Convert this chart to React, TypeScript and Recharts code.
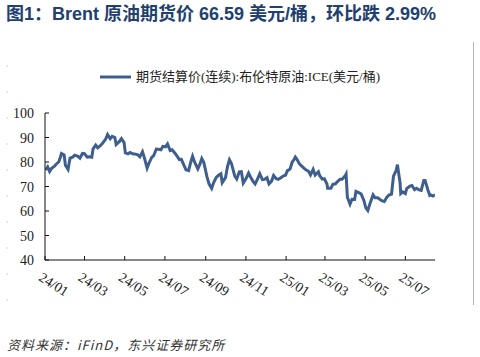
import React from 'react';
import { LineChart, Line, XAxis, YAxis, Legend } from 'recharts';

const dates: string[] = [
  '2024-01-02','2024-01-05','2024-01-08','2024-01-11','2024-01-15','2024-01-18','2024-01-22','2024-01-25','2024-01-26','2024-01-30',
  '2024-02-01','2024-02-05','2024-02-08','2024-02-12','2024-02-15','2024-02-20','2024-02-23','2024-02-27',
  '2024-03-01','2024-03-05','2024-03-08','2024-03-12','2024-03-14','2024-03-18','2024-03-21','2024-03-25','2024-03-28',
  '2024-04-02','2024-04-05','2024-04-09','2024-04-12','2024-04-16','2024-04-18','2024-04-23','2024-04-26','2024-04-30',
  '2024-05-02','2024-05-06','2024-05-09','2024-05-13','2024-05-16','2024-05-21','2024-05-24','2024-05-28','2024-05-31',
  '2024-06-04','2024-06-07','2024-06-11','2024-06-14','2024-06-18','2024-06-21','2024-06-25','2024-06-28',
  '2024-07-02','2024-07-05','2024-07-09','2024-07-12','2024-07-16','2024-07-19','2024-07-23','2024-07-26','2024-07-30',
  '2024-08-02','2024-08-06','2024-08-09','2024-08-12','2024-08-15','2024-08-20','2024-08-23','2024-08-26','2024-08-29',
  '2024-09-03','2024-09-06','2024-09-10','2024-09-13','2024-09-17','2024-09-20','2024-09-24','2024-09-26',
  '2024-10-01','2024-10-04','2024-10-07','2024-10-10','2024-10-15','2024-10-18','2024-10-22','2024-10-25','2024-10-28',
  '2024-11-01','2024-11-05','2024-11-08','2024-11-12','2024-11-15','2024-11-19','2024-11-22','2024-11-26','2024-11-29',
  '2024-12-03','2024-12-06','2024-12-10','2024-12-13','2024-12-17','2024-12-20','2024-12-24','2024-12-27','2024-12-31',
  '2025-01-03','2025-01-07','2025-01-10','2025-01-13','2025-01-15','2025-01-17','2025-01-21','2025-01-24','2025-01-28','2025-01-31',
  '2025-02-04','2025-02-07','2025-02-11','2025-02-14','2025-02-19','2025-02-21','2025-02-25','2025-02-28',
  '2025-03-04','2025-03-05','2025-03-10','2025-03-13','2025-03-17','2025-03-20','2025-03-24','2025-03-27',
  '2025-04-01','2025-04-02','2025-04-04','2025-04-08','2025-04-11','2025-04-15','2025-04-17','2025-04-22','2025-04-25','2025-04-29',
  '2025-05-02','2025-05-05','2025-05-08','2025-05-13','2025-05-16','2025-05-20','2025-05-23','2025-05-27','2025-05-30',
  '2025-06-03','2025-06-06','2025-06-10','2025-06-13','2025-06-17','2025-06-19','2025-06-20','2025-06-23','2025-06-24','2025-06-27',
  '2025-07-01','2025-07-03','2025-07-08','2025-07-11','2025-07-15','2025-07-18','2025-07-22','2025-07-25','2025-07-29','2025-07-31',
  '2025-08-04','2025-08-07','2025-08-08','2025-08-12','2025-08-15',
];

const prices: number[] = [
  76.8, 78.0, 76.1, 77.4, 78.2, 79.1, 80.1, 82.4, 83.5, 82.9,
  78.7, 77.0, 81.6, 82.0, 82.8, 82.3, 81.6, 83.5,
  83.4, 82.0, 82.1, 81.9, 85.4, 86.9, 85.8, 86.7, 87.5,
  89.3, 91.2, 89.5, 90.5, 90.0, 87.1, 88.4, 89.5, 87.9,
  83.7, 83.3, 83.9, 83.4, 83.3, 82.9, 82.1, 84.2, 81.6,
  77.5, 79.6, 81.9, 82.6, 85.3, 85.2, 85.0, 86.4,
  86.2, 87.4, 84.7, 85.0, 83.7, 82.6, 81.0, 81.1, 78.6,
  76.8, 76.5, 79.7, 82.3, 80.0, 77.2, 79.0, 81.4, 79.9,
  73.8, 71.1, 69.2, 71.6, 73.7, 74.5, 75.2, 71.6,
  73.6, 78.1, 80.9, 79.4, 74.3, 73.1, 76.0, 76.1, 71.4,
  73.1, 75.5, 73.9, 72.0, 71.0, 73.3, 75.2, 72.8, 72.9,
  73.6, 71.1, 72.2, 74.5, 73.2, 72.9, 73.6, 74.2, 74.6,
  76.5, 77.1, 79.8, 81.0, 82.0, 81.3, 79.3, 78.5, 77.5, 76.8,
  76.2, 74.7, 77.0, 74.7, 76.0, 74.4, 73.0, 73.2,
  71.0, 69.3, 69.3, 70.9, 71.1, 72.0, 73.0, 73.0,
  74.5, 75.0, 65.6, 62.8, 64.8, 64.7, 68.0, 67.4, 66.9, 64.3,
  61.3, 60.2, 62.8, 66.6, 65.4, 65.4, 64.8, 64.1, 63.9,
  65.6, 66.5, 66.9, 74.2, 76.5, 78.9, 77.0, 71.5, 67.1, 67.8,
  67.1, 69.1, 70.2, 70.4, 68.7, 69.3, 68.6, 68.4, 72.5, 72.5,
  68.8, 66.4, 66.6, 66.1, 66.6,
];

const xTickDates: string[] = [
  '2024-01-01','2024-03-01','2024-05-01','2024-07-01','2024-09-01',
  '2024-11-01','2025-01-01','2025-03-01','2025-05-01','2025-07-01',
];
const xTickLabels: string[] = ['24/01','24/03','24/05','24/07','24/09','24/11','25/01','25/03','25/05','25/07'];
const yTicks: number[] = [40, 50, 60, 70, 80, 90, 100];
const endDate = '2025-08-15';

const seriesName = '期货结算价(连续):布伦特原油:ICE(美元/桶)';
const titleText = '图1：Brent 原油期货价 66.59 美元/桶，环比跌 2.99%';
const sourceText = '资料来源：iFinD，东兴证券研究所';

const base = Date.UTC(2024, 0, 1);
const dayOf = (s: string) => {
  const [y, m, d] = s.split('-').map(Number);
  return Math.round((Date.UTC(y, m - 1, d) - base) / 86400000);
};

const data = dates.map((d, i) => ({ day: dayOf(d), price: prices[i] }));
const xTicks = xTickDates.map(dayOf);
const labelOf = (v: number) => {
  const i = xTicks.indexOf(v);
  return i >= 0 ? xTickLabels[i] : '';
};

const SERIF = '"Liberation Serif", "Times New Roman", serif';
const CJK = '"Liberation Serif", "Noto Sans CJK SC", serif';
const LINE_COLOR = '#3e5f8e';

const XTick = (props: any) => {
  const { x, y, payload } = props;
  return (
    <text
      x={x - 2}
      y={y}
      dy="0.75em"
      transform={`rotate(32, ${x}, ${y})`}
      textAnchor="start"
      fontSize={14}
      fontFamily={SERIF}
      fill="#222"
    >
      {labelOf(payload.value)}
    </text>
  );
};

const YTick = (props: any) => {
  const { x, y, payload } = props;
  return (
    <text x={x} y={y} dy="0.36em" textAnchor="end" fontSize={14} fontFamily={SERIF} fill="#222">
      {payload.value}
    </text>
  );
};

const LegendContent = () => (
  <div style={{ display: 'flex', justifyContent: 'center', alignItems: 'center', width: 480 }}>
    <svg width={31} height={6} style={{ display: 'block', marginRight: 5 }}>
      <line x1={0} y1={3} x2={31} y2={3} stroke={LINE_COLOR} strokeWidth={3} />
    </svg>
    <span style={{ fontFamily: CJK, fontSize: 13, color: '#222', lineHeight: '16px', whiteSpace: 'nowrap' }}>
      {seriesName}
    </span>
  </div>
);

export default function App() {
  return (
    <div style={{ position: 'absolute', left: 0, top: 0, width: 480, height: 357, background: '#fff', overflow: 'hidden' }}>
      <div
        style={{
          position: 'absolute', left: 6, top: 4, fontFamily: '"Liberation Sans", "Noto Sans CJK SC", sans-serif',
          fontWeight: 'bold', fontSize: 18, color: '#21406f', whiteSpace: 'nowrap', lineHeight: '20px',
        }}
      >
        {titleText}
      </div>
      <svg width={480} height={357} style={{ position: 'absolute', left: 0, top: 0 }}>
        <line x1={473.5} y1={42} x2={473.5} y2={305} stroke="#b5b5b5" strokeWidth={1} />
        <line x1={7} y1={65} x2={7} y2={305} stroke="#d0d0d0" strokeWidth={1} strokeDasharray="2 24" />
      </svg>
      <div style={{ position: 'absolute', left: 0, top: 0 }}>
        <LineChart width={480} height={357} data={data} margin={{ top: 97, right: 45, bottom: 57, left: 0 }}>
          <Legend verticalAlign="top" content={LegendContent} wrapperStyle={{ top: 69, left: 0, width: 480 }} />
          <XAxis
            dataKey="day"
            type="number"
            domain={[0, dayOf(endDate)]}
            ticks={xTicks}
            interval={0}
            tick={XTick}
            tickSize={-4}
            tickMargin={16}
            height={40}
            axisLine={{ stroke: '#111', strokeWidth: 1 }}
            tickLine={{ stroke: '#111', strokeWidth: 1 }}
            allowDataOverflow
          />
          <YAxis
            type="number"
            domain={[40, 100]}
            ticks={yTicks}
            interval={0}
            tick={YTick}
            tickSize={-4}
            tickMargin={15}
            width={45}
            axisLine={{ stroke: '#111', strokeWidth: 1 }}
            tickLine={{ stroke: '#111', strokeWidth: 1 }}
          />
          <Line
            type="linear"
            dataKey="price"
            name={seriesName}
            stroke={LINE_COLOR}
            strokeWidth={3}
            dot={false}
            activeDot={false}
            isAnimationActive={false}
          />
        </LineChart>
      </div>
      <div
        style={{
          position: 'absolute', left: 7, top: 336, fontFamily: '"Noto Sans CJK SC", sans-serif', fontStyle: 'italic',
          fontSize: 13, color: '#333', whiteSpace: 'nowrap', lineHeight: '18px', letterSpacing: 1,
        }}
      >
        {sourceText}
      </div>
    </div>
  );
}
